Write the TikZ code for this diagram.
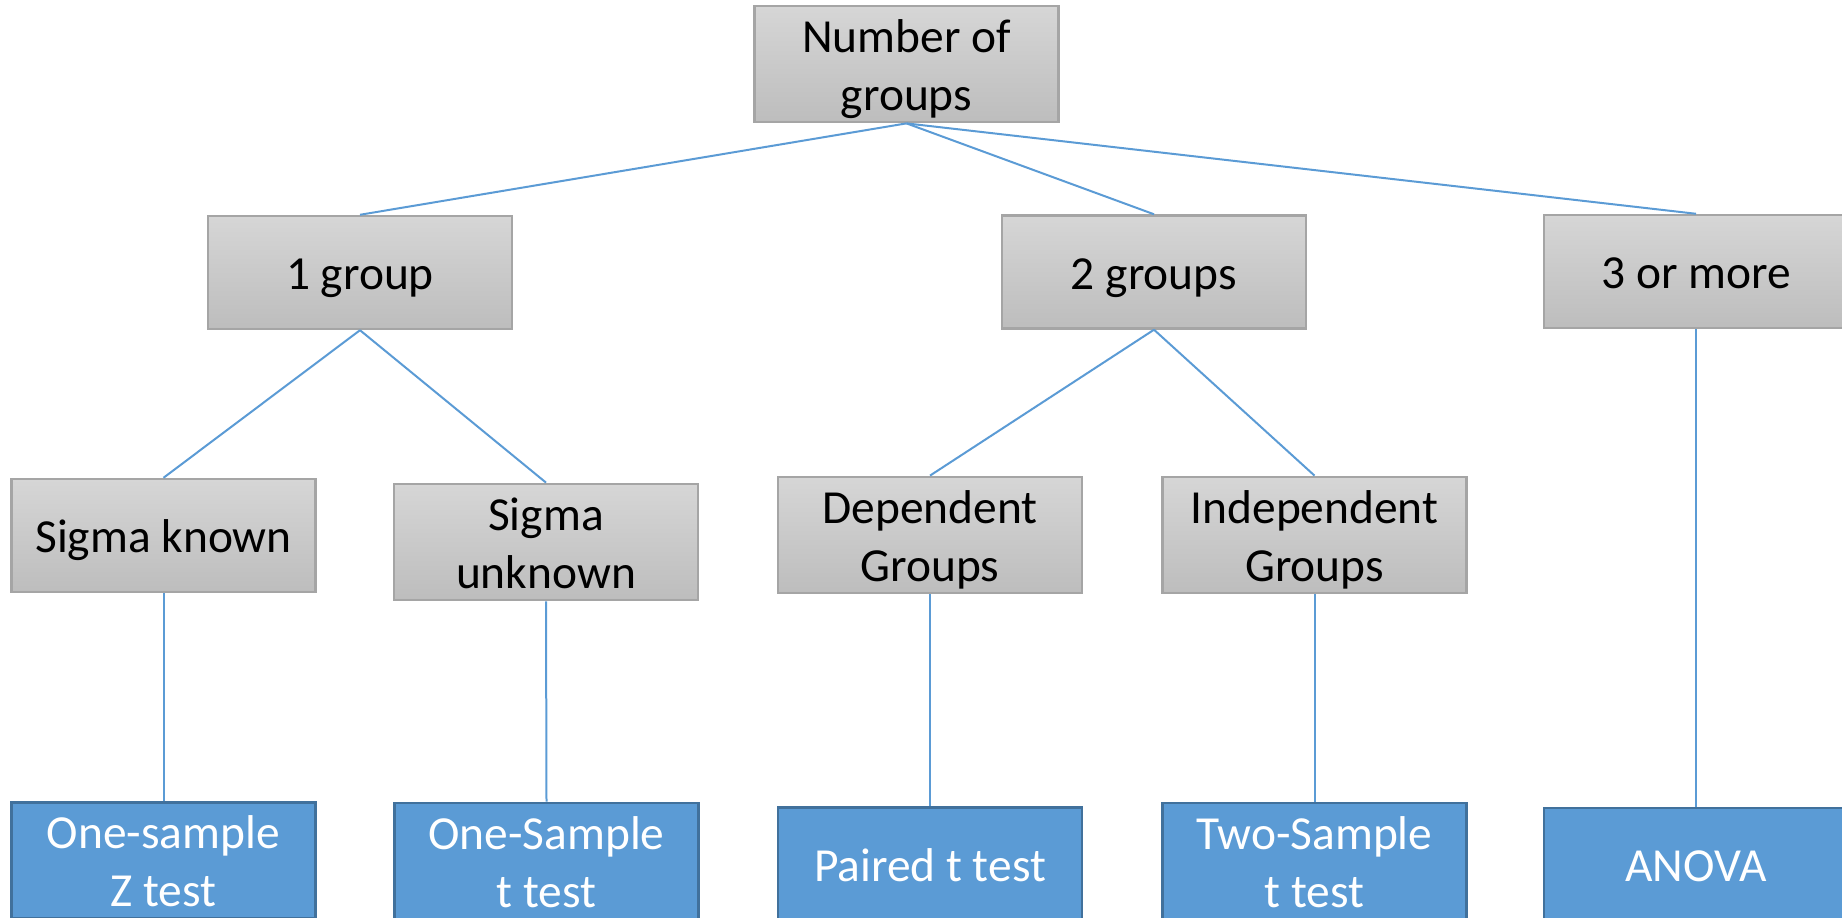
\documentclass[tikz,border=0pt]{standalone}
\usepackage{fontspec}
\setmainfont{Carlito}
\usepackage{xcolor}
\usepackage{tikz}
\usetikzlibrary{shapes.geometric, arrows}
\definecolor{boxline}{HTML}{A5A5A5}
\definecolor{boxtop}{HTML}{D6D6D6}
\definecolor{boxbot}{HTML}{BDBDBD}
\definecolor{testfill}{HTML}{5B9BD5}
\definecolor{testline}{HTML}{41719C}
\newcommand{\upstrut}{\rule{0pt}{26.5pt}}
\newcommand{\downstrut}{\rule[-6.7pt]{0pt}{6.7pt}}
\tikzstyle{boxed} = [rectangle, line width=1.4pt, minimum width=6.08cm, minimum height=2.26cm,
  inner sep=0pt, align=center, font=\fontsize{27}{33}\selectfont,
  execute at begin node=\upstrut, execute at end node=\downstrut]
\tikzstyle{choice} = [boxed, draw=boxline, top color=boxtop, bottom color=boxbot]
\tikzstyle{test} = [boxed, draw=testline, fill=testfill, text=white]
\tikzstyle{link} = [draw=testfill, line width=0.04cm]

\begin{document}
\begin{tikzpicture}[x=0.02cm, y=-0.02cm]
    \useasboundingbox (0,0) rectangle (1842,918);
    % top of the tree
    \node[choice] (n) at (906.5,64) {\upstrut Number of\\groups};
    % how many groups
    \node[choice] (g1) at (360,272.5) {1 group};
    \node[choice] (g2) at (1154,272) {2 groups};
    \node[choice] (g3) at (1696,271.5) {3 or more};
    % second split
    \node[choice] (sk) at (163.5,535.5) {Sigma known};
    \node[choice] (su) at (546,542) {\upstrut Sigma\\unknown};
    \node[choice] (dep) at (930,535) {\upstrut Dependent\\Groups};
    \node[choice] (ind) at (1314.5,535) {\upstrut Independent\\Groups};
    % the tests
    \node[test] (z) at (163.5,860.5) {\upstrut One-sample\\Z test};
    \node[test] (t1) at (546.5,861) {\upstrut One-Sample\\t test};
    \node[test] (pt) at (930,864) {Paired t test};
    \node[test] (t2) at (1314.5,861) {\upstrut Two-Sample\\t test};
    \node[test] (an) at (1696,864.5) {ANOVA};
    \draw[link] (n.south)--(g1.north);
    \draw[link] (n.south)--(g2.north);
    \draw[link] (n.south)--(g3.north);
    \draw[link] (g1.south)--(sk.north);
    \draw[link] (g1.south)--(su.north);
    \draw[link] (g2.south)--(dep.north);
    \draw[link] (g2.south)--(ind.north);
    \draw[link] (g3.south)--(an.north);
    \draw[link] (sk.south)--(z.north);
    \draw[link] (su.south)--(t1.north);
    \draw[link] (dep.south)--(pt.north);
    \draw[link] (ind.south)--(t2.north);
  \end{tikzpicture}
\end{document}
